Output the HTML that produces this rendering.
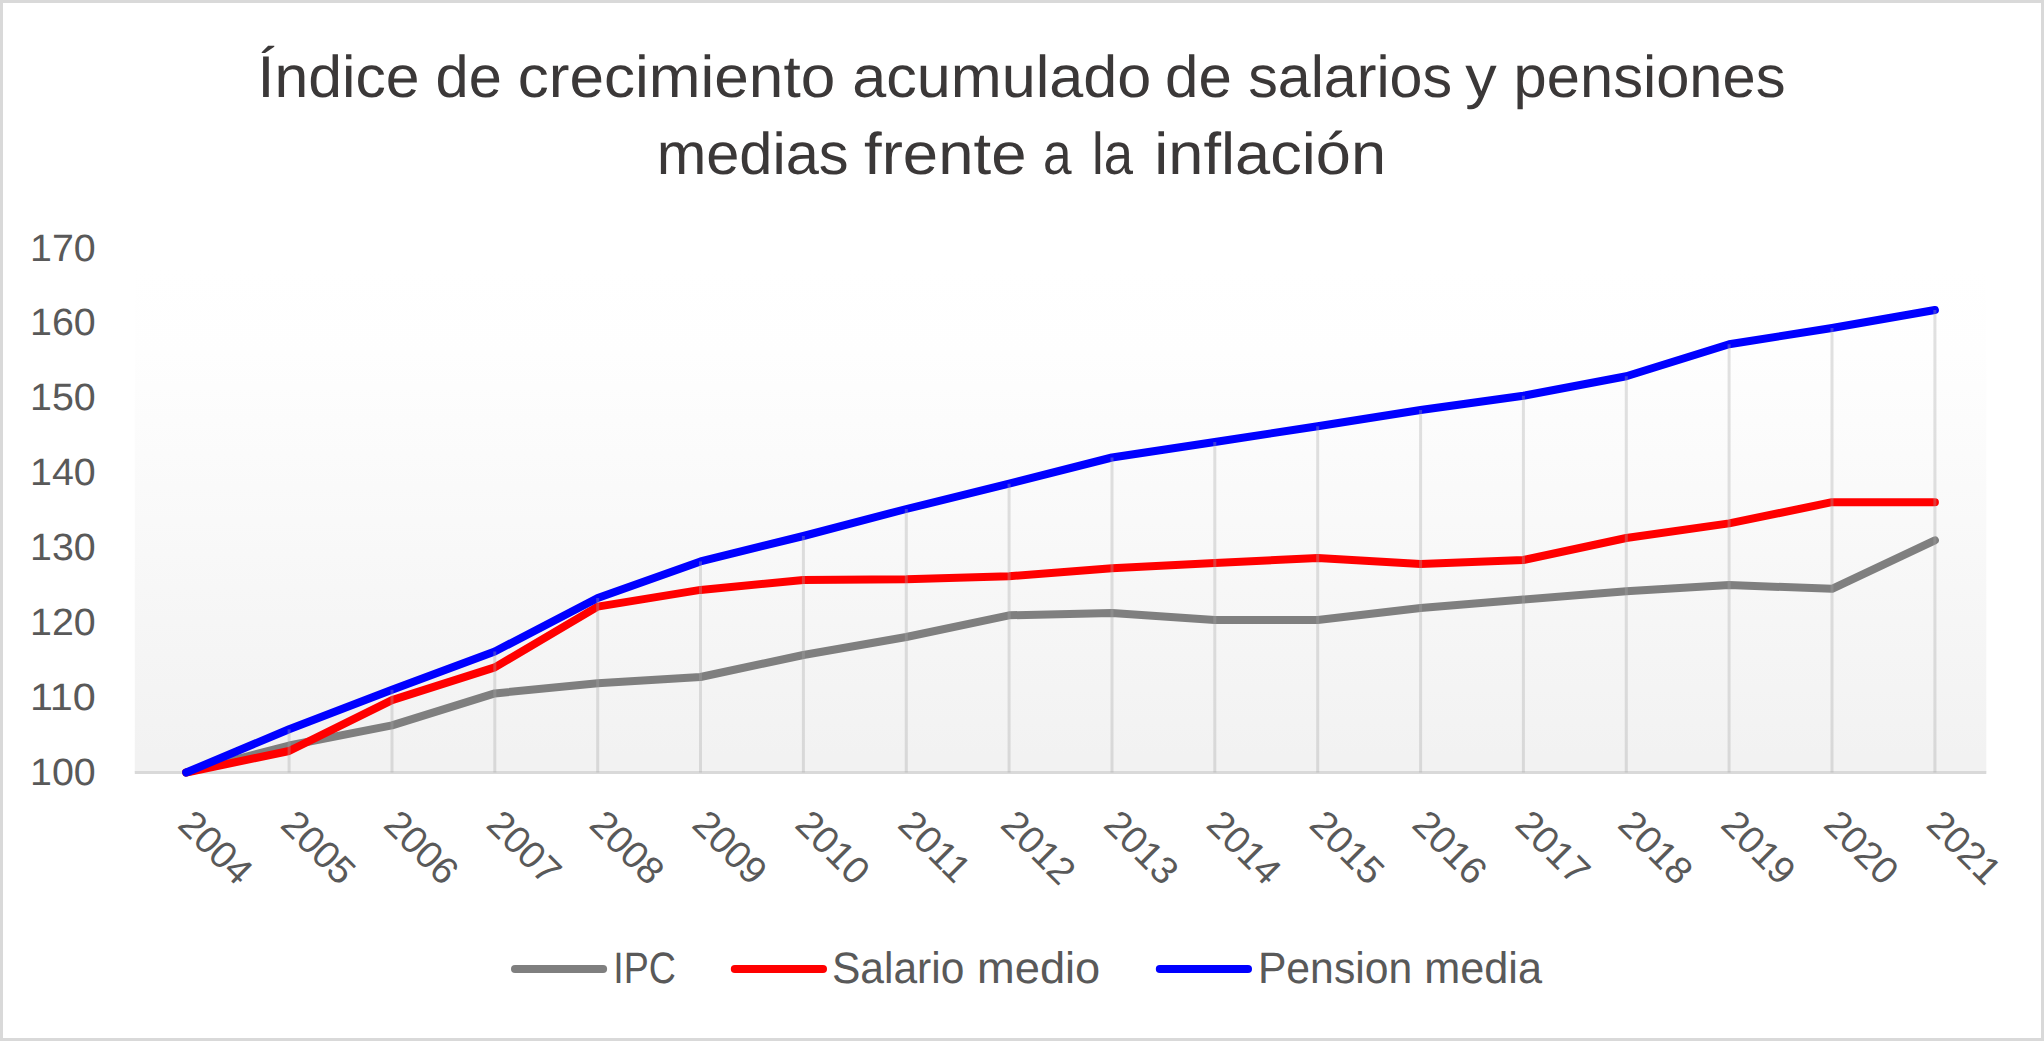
<!DOCTYPE html>
<html lang="es"><head><meta charset="utf-8"><title>Índice de crecimiento acumulado de salarios y pensiones medias frente a la inflación</title>
<style>
html,body{margin:0;padding:0;background:#fff;}
body{width:2044px;height:1041px;overflow:hidden;}
svg{display:block;}
svg text{font-family:"Liberation Sans", sans-serif;text-rendering:geometricPrecision;}
</style></head><body>
<svg width="2044" height="1041" viewBox="0 0 2044 1041">
<defs>
<linearGradient id="pg" gradientUnits="userSpaceOnUse" x1="0" y1="248.5" x2="0" y2="772.5">
<stop offset="0" stop-color="#ffffff"/>
<stop offset="0.0372" stop-color="#ffffff"/>
<stop offset="0.1994" stop-color="#fefefe"/>
<stop offset="0.9666" stop-color="#f2f2f2"/>
<stop offset="1" stop-color="#f2f2f2"/>
</linearGradient>
</defs>
<rect x="0" y="0" width="2044" height="1041" fill="#ffffff"/>
<rect x="1.5" y="1.5" width="2041" height="1038" fill="none" stroke="#d9d9d9" stroke-width="3"/>

<rect x="134.8" y="248.5" width="1851.5" height="524.0" fill="url(#pg)"/>
<line x1="134.8" y1="772.5" x2="1986.3" y2="772.5" stroke="#d9d9d9" stroke-width="3"/>
<polyline points="186.2,772.5 289.1,745.5 392.0,725.4 494.8,693.4 597.7,683.3 700.5,677.0 803.4,655.0 906.3,637.0 1009.1,615.3 1112.0,613.0 1214.8,620.0 1317.7,620.0 1420.6,608.0 1523.4,599.6 1626.3,591.3 1729.1,585.0 1832.0,588.8 1934.9,540.3" fill="none" stroke="#7f7f7f" stroke-width="8" stroke-linecap="round" stroke-linejoin="round"/>
<polyline points="186.2,772.5 289.1,751.0 392.0,700.1 494.8,667.4 597.7,606.6 700.5,589.9 803.4,580.0 906.3,579.3 1009.1,576.2 1112.0,568.3 1214.8,563.0 1317.7,558.0 1420.6,564.0 1523.4,560.0 1626.3,538.0 1729.1,523.4 1832.0,502.2 1934.9,502.2" fill="none" stroke="#ff0000" stroke-width="8" stroke-linecap="round" stroke-linejoin="round"/>
<polyline points="186.2,772.5 289.1,729.3 392.0,689.8 494.8,651.5 597.7,598.0 700.5,561.4 803.4,536.0 906.3,509.0 1009.1,483.7 1112.0,457.5 1214.8,442.0 1317.7,426.2 1420.6,410.0 1523.4,395.7 1626.3,376.2 1729.1,344.2 1832.0,328.0 1934.9,310.0" fill="none" stroke="#0000ff" stroke-width="8" stroke-linecap="round" stroke-linejoin="round"/>
<g stroke="#a6a6a6" stroke-opacity="0.34" stroke-width="3">
<line x1="289.1" y1="729.3" x2="289.1" y2="772.5"/>
<line x1="392.0" y1="689.8" x2="392.0" y2="772.5"/>
<line x1="494.8" y1="651.5" x2="494.8" y2="772.5"/>
<line x1="597.7" y1="598.0" x2="597.7" y2="772.5"/>
<line x1="700.5" y1="561.4" x2="700.5" y2="772.5"/>
<line x1="803.4" y1="536.0" x2="803.4" y2="772.5"/>
<line x1="906.3" y1="509.0" x2="906.3" y2="772.5"/>
<line x1="1009.1" y1="483.7" x2="1009.1" y2="772.5"/>
<line x1="1112.0" y1="457.5" x2="1112.0" y2="772.5"/>
<line x1="1214.8" y1="442.0" x2="1214.8" y2="772.5"/>
<line x1="1317.7" y1="426.2" x2="1317.7" y2="772.5"/>
<line x1="1420.6" y1="410.0" x2="1420.6" y2="772.5"/>
<line x1="1523.4" y1="395.7" x2="1523.4" y2="772.5"/>
<line x1="1626.3" y1="376.2" x2="1626.3" y2="772.5"/>
<line x1="1729.1" y1="344.2" x2="1729.1" y2="772.5"/>
<line x1="1832.0" y1="328.0" x2="1832.0" y2="772.5"/>
<line x1="1934.9" y1="310.0" x2="1934.9" y2="772.5"/>
</g>
<g>
<text transform="translate(257.55 96.50) scale(1.0296 1)" font-size="59" fill="#3b3838">Índice</text>
<text transform="translate(435.62 96.50) scale(1.0087 1)" font-size="59" fill="#3b3838">de</text>
<text transform="translate(517.71 96.50) scale(1.0524 1)" font-size="59" fill="#3b3838">crecimiento</text>
<text transform="translate(852.25 96.50) scale(1.0363 1)" font-size="59" fill="#3b3838">acumulado</text>
<text transform="translate(1165.10 96.50) scale(1.0169 1)" font-size="59" fill="#3b3838">de</text>
<text transform="translate(1248.22 96.50) scale(1.0029 1)" font-size="59" fill="#3b3838">salarios</text>
<text transform="translate(1465.19 96.50) scale(1.0654 1)" font-size="59" fill="#3b3838">y</text>
<text transform="translate(1513.62 96.50) scale(1.0109 1)" font-size="59" fill="#3b3838">pensiones</text>
</g>
<g>
<text transform="translate(656.63 174.40) scale(1.0093 1)" font-size="59" fill="#3b3838">medias</text>
<text transform="translate(864.05 174.40) scale(1.0766 1)" font-size="59" fill="#3b3838">frente</text>
<text transform="translate(1043.10 174.40) scale(0.8700 1)" font-size="59" fill="#3b3838">a</text>
<text transform="translate(1091.98 174.40) scale(0.8913 1)" font-size="59" fill="#3b3838">la</text>
<text transform="translate(1154.29 174.40) scale(1.0706 1)" font-size="59" fill="#3b3838">inflación</text>
</g>
<text transform="translate(30.05 784.50) scale(1.0357 1)" font-size="38.0" fill="#595959">100</text>
<text transform="translate(29.90 709.64) scale(1.0882 1)" font-size="38.0" fill="#595959">110</text>
<text transform="translate(30.05 634.79) scale(1.0357 1)" font-size="38.0" fill="#595959">120</text>
<text transform="translate(30.05 559.93) scale(1.0357 1)" font-size="38.0" fill="#595959">130</text>
<text transform="translate(30.05 485.07) scale(1.0357 1)" font-size="38.0" fill="#595959">140</text>
<text transform="translate(30.05 410.22) scale(1.0357 1)" font-size="38.0" fill="#595959">150</text>
<text transform="translate(30.05 335.36) scale(1.0357 1)" font-size="38.0" fill="#595959">160</text>
<text transform="translate(30.05 260.50) scale(1.0357 1)" font-size="38.0" fill="#595959">170</text>
<text transform="translate(176.23 826.30) rotate(45) scale(1.012 1)" font-size="38.1" fill="#595959">2004</text>
<text transform="translate(279.09 826.30) rotate(45) scale(1.012 1)" font-size="38.1" fill="#595959">2005</text>
<text transform="translate(381.95 826.30) rotate(45) scale(1.012 1)" font-size="38.1" fill="#595959">2006</text>
<text transform="translate(484.81 826.30) rotate(45) scale(1.012 1)" font-size="38.1" fill="#595959">2007</text>
<text transform="translate(587.67 826.30) rotate(45) scale(1.012 1)" font-size="38.1" fill="#595959">2008</text>
<text transform="translate(690.54 826.30) rotate(45) scale(1.012 1)" font-size="38.1" fill="#595959">2009</text>
<text transform="translate(793.40 826.30) rotate(45) scale(1.012 1)" font-size="38.1" fill="#595959">2010</text>
<text transform="translate(896.26 826.30) rotate(45) scale(1.012 1)" font-size="38.1" fill="#595959">2011</text>
<text transform="translate(999.12 826.30) rotate(45) scale(1.012 1)" font-size="38.1" fill="#595959">2012</text>
<text transform="translate(1101.98 826.30) rotate(45) scale(1.012 1)" font-size="38.1" fill="#595959">2013</text>
<text transform="translate(1204.84 826.30) rotate(45) scale(1.012 1)" font-size="38.1" fill="#595959">2014</text>
<text transform="translate(1307.70 826.30) rotate(45) scale(1.012 1)" font-size="38.1" fill="#595959">2015</text>
<text transform="translate(1410.56 826.30) rotate(45) scale(1.012 1)" font-size="38.1" fill="#595959">2016</text>
<text transform="translate(1513.42 826.30) rotate(45) scale(1.012 1)" font-size="38.1" fill="#595959">2017</text>
<text transform="translate(1616.29 826.30) rotate(45) scale(1.012 1)" font-size="38.1" fill="#595959">2018</text>
<text transform="translate(1719.15 826.30) rotate(45) scale(1.012 1)" font-size="38.1" fill="#595959">2019</text>
<text transform="translate(1822.01 826.30) rotate(45) scale(1.012 1)" font-size="38.1" fill="#595959">2020</text>
<text transform="translate(1924.87 826.30) rotate(45) scale(1.012 1)" font-size="38.1" fill="#595959">2021</text>
<line x1="515.0" y1="969.0" x2="603.1" y2="969.0" stroke="#7f7f7f" stroke-width="8" stroke-linecap="round"/>
<text transform="translate(613.32 982.60) scale(0.8543 1)" font-size="44" fill="#595959">IPC</text>
<line x1="734.8" y1="969.0" x2="823.0" y2="969.0" stroke="#ff0000" stroke-width="8" stroke-linecap="round"/>
<g>
<text transform="translate(831.89 982.60) scale(0.9669 1)" font-size="44" fill="#595959">Salario</text>
<text transform="translate(977.06 982.60) scale(1.0282 1)" font-size="44" fill="#595959">medio</text>
</g>
<line x1="1159.8" y1="969.0" x2="1248.0" y2="969.0" stroke="#0000ff" stroke-width="8" stroke-linecap="round"/>
<g>
<text transform="translate(1257.88 982.60) scale(0.9707 1)" font-size="44" fill="#595959">Pension</text>
<text transform="translate(1424.19 982.60) scale(0.9826 1)" font-size="44" fill="#595959">media</text>
</g>
</svg>
</body></html>
